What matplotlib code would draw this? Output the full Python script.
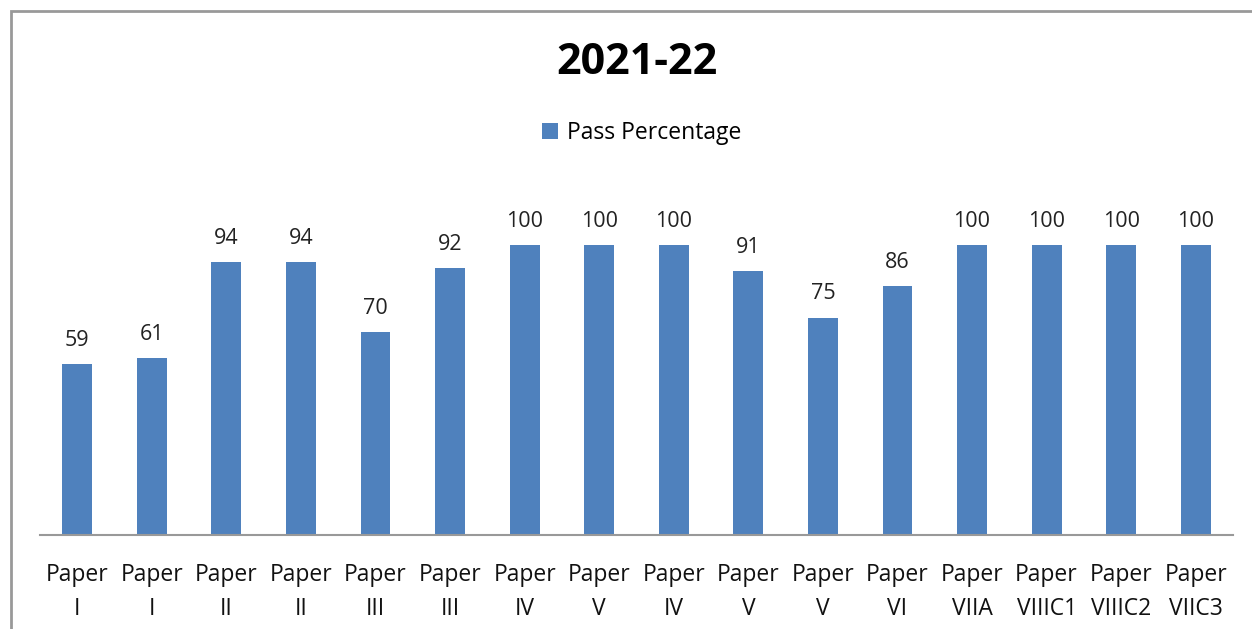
import matplotlib
matplotlib.use("Agg")
import matplotlib.pyplot as plt
from matplotlib.patches import Rectangle

categories = ["Paper\nI", "Paper\nI", "Paper\nII", "Paper\nII", "Paper\nIII", "Paper\nIII",
              "Paper\nIV", "Paper\nV", "Paper\nIV", "Paper\nV", "Paper\nV", "Paper\nVI",
              "Paper\nVIIA", "Paper\nVIIIC1", "Paper\nVIIIC2", "Paper\nVIIC3"]
values = [59, 61, 94, 94, 70, 92, 100, 100, 100, 91, 75, 86, 100, 100, 100, 100]
series_name = "Pass Percentage"
title = "2021-22"

plt.rcParams['font.family'] = ['Open Sans', 'DejaVu Sans']
W, H = 1252, 629
fig = plt.figure(figsize=(W/100, H/100), dpi=100)
fig.patches.append(Rectangle((11/W, -0.1), 1.2, 1.1 - 11/H, transform=fig.transFigure,
                             fill=False, edgecolor='#999999', linewidth=2))
ax = fig.add_axes([40/W, (H-535)/H, (1233-40)/W, (535-187)/H])
x = list(range(len(values)))
bars = ax.bar(x, values, width=0.4, color='#4F81BD', label=series_name, zorder=2)
ax.set_xlim(-0.5, len(values)-0.5)
ax.set_ylim(0, 120)
for xi, v in zip(x, values):
    ax.text(xi, v + 4.5, str(v), ha='center', va='bottom', fontsize=15.5, color='#222222')
ax.set_xticks(x)
ax.set_xticklabels(categories, fontsize=16.5, linespacing=1.55, color='#111111')
ax.tick_params(axis='x', length=0, pad=20)
ax.set_yticks([])
for s in ['top', 'right', 'left']:
    ax.spines[s].set_visible(False)
ax.spines['bottom'].set_color('#999999')
ax.spines['bottom'].set_linewidth(1.5)
fig.text(637/W, 1 - 62/H, title, ha='center', va='center', fontsize=31, fontweight='bold')
leg = fig.legend(handles=[bars], labels=[series_name], loc='center', bbox_to_anchor=(642/W, 1 - 133/H),
                 frameon=False, fontsize=16.5, handlelength=0.7, handleheight=0.7, handletextpad=0.4)
fig.savefig("out.png", dpi=100)
